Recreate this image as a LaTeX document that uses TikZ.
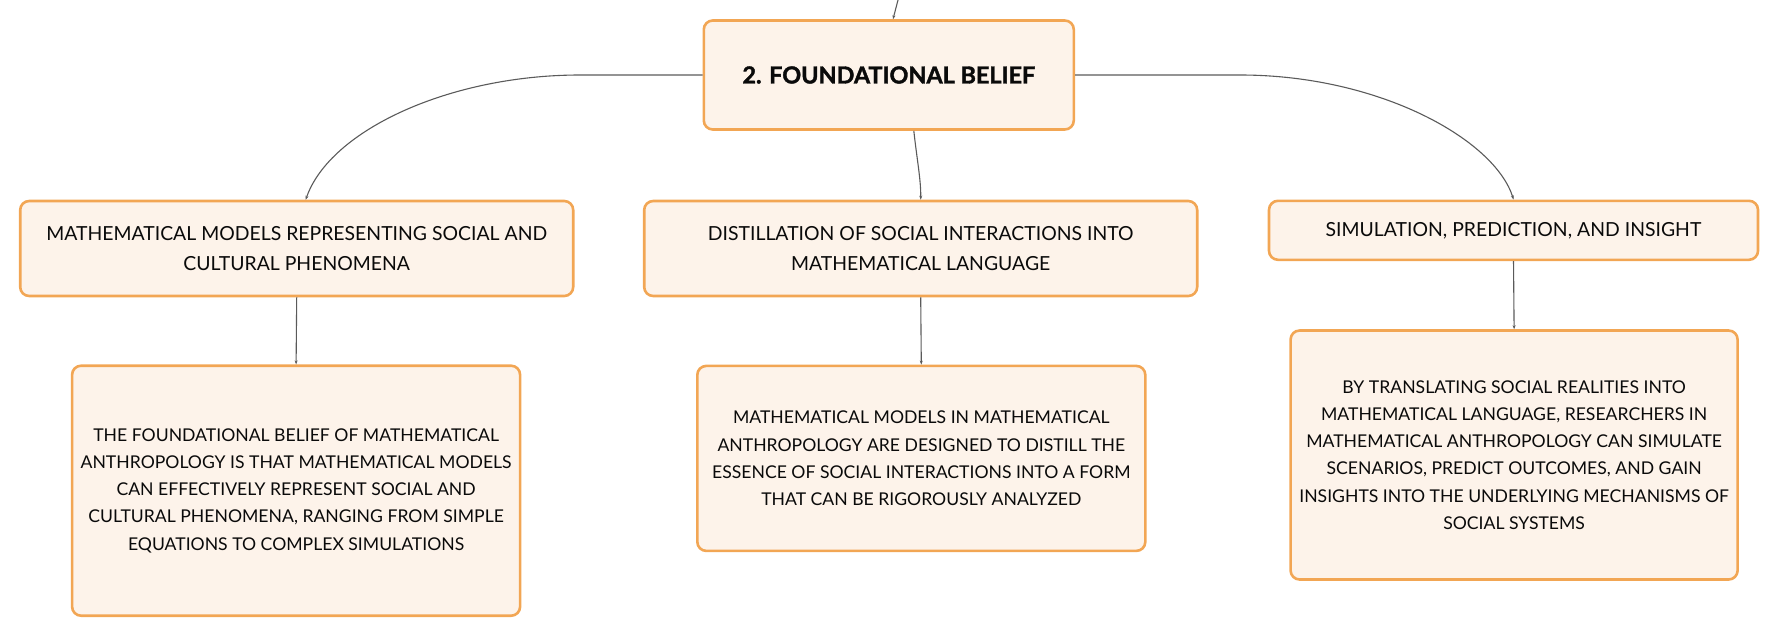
\documentclass[tikz,border=0pt]{standalone}
\usepackage{fontspec}
\setmainfont{Lato}
\newfontfamily\titlefont{Lato}[BoldFeatures={FakeBold=1.6}]
\usetikzlibrary{arrows.meta}
\definecolor{boxfill}{HTML}{FDF3EA}
\definecolor{boxdraw}{HTML}{F2A654}
\definecolor{lineclr}{HTML}{5A5A5A}
\definecolor{txtclr}{HTML}{0A0A0A}
\tikzset{
  box/.style={draw=boxdraw, line width=2.6pt, fill=boxfill, rounded corners=9pt,
    inner sep=0pt, align=center, text=txtclr},
  midtext/.style={font=\fontsize{19.4}{29.5}\selectfont},
  lowtext/.style={font=\fontsize{17.6}{27.2}\selectfont},
  conn/.style={draw=lineclr, line width=1.1pt, -{Stealth[length=4pt,width=3pt]}},
}
\begin{document}
\begin{tikzpicture}[x=1pt,y=-1pt]
\useasboundingbox (0,0) rectangle (1779,638);
\node[box, minimum width=370pt, minimum height=109pt,
  font=\titlefont\fontsize{23.4}{30}\selectfont\bfseries] (root) at (888.8,75) {2. FOUNDATIONAL BELIEF};
\node[box, midtext, minimum width=553pt, minimum height=95pt] (lm) at (296.7,248.5)
  {MATHEMATICAL MODELS REPRESENTING SOCIAL AND\\CULTURAL PHENOMENA};
\node[box, midtext, minimum width=553pt, minimum height=95pt] (mm) at (920.7,248.5)
  {DISTILLATION OF SOCIAL INTERACTIONS INTO\\MATHEMATICAL LANGUAGE};
\node[box, midtext, minimum width=489pt, minimum height=59pt] (rm) at (1513.5,230.3)
  {SIMULATION, PREDICTION, AND INSIGHT};
\node[box, lowtext, minimum width=448pt, minimum height=250pt] (lb) at (296.1,490.7)
  {THE FOUNDATIONAL BELIEF OF MATHEMATICAL\\ANTHROPOLOGY IS THAT MATHEMATICAL MODELS\\CAN EFFECTIVELY REPRESENT SOCIAL AND\\CULTURAL PHENOMENA, RANGING FROM SIMPLE\\EQUATIONS TO COMPLEX SIMULATIONS};
\node[box, lowtext, minimum width=448pt, minimum height=185pt] (mb) at (921.3,458.4)
  {MATHEMATICAL MODELS IN MATHEMATICAL\\ANTHROPOLOGY ARE DESIGNED TO DISTILL THE\\ESSENCE OF SOCIAL INTERACTIONS INTO A FORM\\THAT CAN BE RIGOROUSLY ANALYZED};
\node[box, lowtext, minimum width=447pt, minimum height=249pt] (rb) at (1514.1,455)
  {BY TRANSLATING SOCIAL REALITIES INTO\\MATHEMATICAL LANGUAGE, RESEARCHERS IN\\MATHEMATICAL ANTHROPOLOGY CAN SIMULATE\\SCENARIOS, PREDICT OUTCOMES, AND GAIN\\INSIGHTS INTO THE UNDERLYING MECHANISMS OF\\SOCIAL SYSTEMS};
% connectors
\coordinate (topin) at (898,0);
\coordinate (lbend) at (580,75);
\coordinate (rbend) at (1240,75);
\draw[conn] (topin) -- ([xshift=4.2pt]root.north);
\draw[conn] (root.west) -- (lbend) .. controls (450,75) and (330,130) .. ([xshift=9pt]lm.north);
\draw[conn] (root.east) -- (rbend) .. controls (1380,75) and (1495,140) .. (rm.north);
\draw[conn] ([xshift=25pt]root.south) .. controls (917,160) and (921,180) .. (mm.north);
\draw[conn] (lm.south) -- (lb.north);
\draw[conn] (mm.south) -- (mb.north);
\draw[conn] (rm.south) -- (rb.north);
\end{tikzpicture}
\end{document}
